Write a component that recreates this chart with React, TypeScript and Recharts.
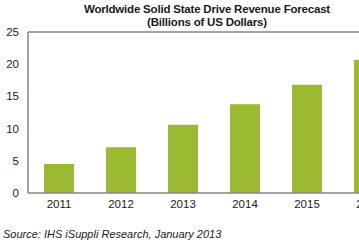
import React from "react";
import { BarChart, Bar, XAxis, YAxis, ReferenceLine } from "recharts";

const years = ["2011", "2012", "2013", "2014", "2015", "2016"];
const revenue = [4.5, 7.1, 10.6, 13.8, 16.8, 20.7];
const yTicks = [0, 5, 10, 15, 20, 25];

const data = years.map((year, i) => ({ year, revenue: revenue[i] }));

const FONT = "'Liberation Sans', Arial, sans-serif";
const TEXT = "#1a1a1a";
const AXIS = "#868686";

export default function App() {
  return (
    <div
      style={{
        position: "absolute",
        left: 0,
        top: 0,
        width: 359,
        height: 247,
        overflow: "hidden",
        background: "#fff",
        fontFamily: FONT,
      }}
    >
      <div
        style={{
          position: "absolute",
          left: 57,
          width: 300,
          top: 3,
          textAlign: "center",
          fontWeight: "bold",
          fontSize: 11.5,
          lineHeight: "13px",
          color: TEXT,
          letterSpacing: -0.2,
        }}
      >
        Worldwide Solid State Drive Revenue Forecast
        <br />
        (Billions of US Dollars)
      </div>
      <div style={{ position: "absolute", left: 0, top: 0 }}>
        <BarChart
          width={420}
          height={247}
          data={data}
          margin={{ top: 32, right: 20, bottom: 24, left: 0 }}
          barSize={30}
        >
          <XAxis
            dataKey="year"
            height={30}
            axisLine={{ stroke: AXIS, strokeWidth: 1.5 }}
            tickLine={false}
            tickSize={0}
            tickMargin={7}
            tick={{ fill: TEXT, fontSize: 11.5, fontFamily: FONT }}
          />
          <YAxis
            width={28}
            domain={[0, 25]}
            ticks={yTicks}
            axisLine={{ stroke: AXIS, strokeWidth: 1.5 }}
            tickLine={false}
            tickSize={0}
            tickMargin={9}
            tick={{ fill: TEXT, fontSize: 11.5, fontFamily: FONT }}
          />
          <ReferenceLine y={25} stroke={AXIS} strokeWidth={1.5} />
          <Bar dataKey="revenue" fill="#9aba32" isAnimationActive={false} />
        </BarChart>
      </div>
      <div
        style={{
          position: "absolute",
          left: 3,
          top: 228,
          fontStyle: "italic",
          fontSize: 11,
          color: TEXT,
        }}
      >
        Source: IHS iSuppli Research, January 2013
      </div>
    </div>
  );
}
